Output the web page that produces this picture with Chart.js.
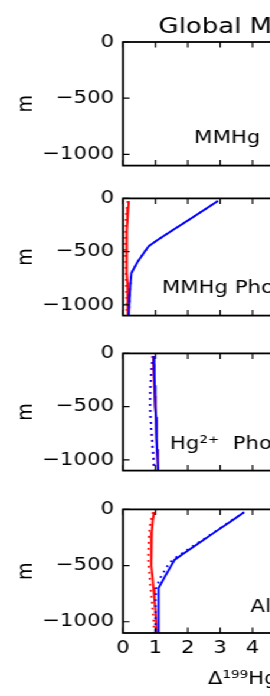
<!DOCTYPE html>
<html><head><meta charset="utf-8">
<script src="https://cdn.jsdelivr.net/npm/chart.js@4/dist/chart.umd.min.js"></script>
<style>
html,body{margin:0;padding:0;background:#fff;overflow:hidden;width:270px;height:696px}
#wrap{position:absolute;left:0;top:0;width:372px;height:696px;transform:scaleX(1.18);transform-origin:0 0}
canvas{position:absolute;left:0}
</style></head><body><div id="wrap"></div>
<script>
// ---- data ----
const depths = [-25, -100, -200, -300, -400, -450, -500, -600, -700, -800, -900, -1000, -1150];
const xTicks = [0, 1, 2, 3, 4, 5, 6, 7, 8, 9];
const yTicks = [0, -500, -1000];
const panelLabels = ['MMHg', 'MMHg Photodegradation', 'Hg\u00B2\u207A  Photoreduction', 'All'];
const mainTitle = 'Global Mean Profiles';
const xTitle = '\u0394\u00B9\u2079\u2079Hg (\u2030)';
const yTitle = 'm';

// MMHg photochemistry panel
const p2RedSolid  = [0.18, 0.16, 0.14, 0.12, 0.11, 0.11, 0.11, 0.12, 0.13, 0.14, 0.15, 0.15, 0.16];
const p2RedDot    = [0.15, 0.12, 0.09, 0.08, 0.07, 0.07, 0.07, 0.08, 0.09, 0.10, 0.11, 0.12, 0.12];
const p2BlueSolid = [2.93, 2.55, 2.04, 1.53, 1.02, 0.79, 0.67, 0.44, 0.26, 0.23, 0.21, 0.19, 0.17];
const p2BlueDot   = [2.93, 2.55, 2.04, 1.53, 1.02, 0.79, 0.67, 0.44, 0.26, 0.23, 0.21, 0.19, 0.17];
// Hg2+ photochemistry panel
const p3RedSolid  = [0.93, 0.94, 0.96, 0.97, 0.98, 0.99, 1.00, 1.02, 1.03, 1.04, 1.05, 1.07, 1.09];
const p3BlueSolid = [0.95, 0.96, 0.97, 0.98, 0.99, 1.00, 1.00, 1.02, 1.03, 1.04, 1.05, 1.07, 1.09];
const p3RedDot    = [0.92, 0.89, 0.87, 0.85, 0.84, 0.84, 0.84, 0.85, 0.87, 0.89, 0.92, 0.94, 0.97];
const p3BlueDot   = [0.93, 0.90, 0.87, 0.85, 0.84, 0.84, 0.84, 0.85, 0.87, 0.90, 0.92, 0.95, 0.97];
// All processes panel
const p4RedSolid  = [0.96, 0.92, 0.89, 0.87, 0.87, 0.87, 0.88, 0.91, 0.94, 0.97, 1.00, 1.02, 1.05];
const p4RedDot    = [0.93, 0.86, 0.81, 0.79, 0.78, 0.78, 0.79, 0.82, 0.85, 0.89, 0.92, 0.95, 0.97];
const p4BlueSolid = [3.74, 3.36, 2.85, 2.35, 1.84, 1.59, 1.49, 1.29, 1.10, 1.10, 1.10, 1.10, 1.10];
const p4BlueDot   = [3.74, 3.34, 2.83, 2.30, 1.77, 1.52, 1.38, 1.17, 1.02, 1.00, 1.00, 1.00, 1.00];

// ---- layout / style ----
const S = 1.18;                 // horizontal stretch of the figure
const PX_PER_UNIT = 32.375;     // screen px per x unit
const LEFT = 123 / S;
const CW = 372;
const RIGHT_PAD = CW - (123 + 9 * PX_PER_UNIT) / S;
const FONT = '"DejaVu Sans", sans-serif';
const RED = '#ff0000', BLUE = '#0000ff';

const pts = xs => depths.map((d, i) => ({x: xs[i], y: d}));
function solid(xs, c, order) { return {data: pts(xs), borderColor: c, borderWidth: 1.9, pointRadius: 0, fill: false, tension: 0, order}; }
function dotted(xs, c, order) { return {data: pts(xs), borderColor: c, borderWidth: 1.8, borderDash: [1.8, 4.2], pointRadius: 0, fill: false, tension: 0, order}; }
// Chart.js draws lower "order" on top: blue dotted > red dotted > blue solid > red solid
function four(rs, bs, rd, bd) { return [solid(rs, RED, 4), solid(bs, BLUE, 3), dotted(rd, RED, 2), dotted(bd, BLUE, 1)]; }

const panels = [
  {top: 42,  padTop: 42, label: panelLabels[0], lx: 2.2,  ly: -895, datasets: []},
  {top: 198, padTop: 12, label: panelLabels[1], lx: 1.2,  ly: -892, datasets: four(p2RedSolid, p2BlueSolid, p2RedDot, p2BlueDot)},
  {top: 353, padTop: 12, label: panelLabels[2], lx: 1.45, ly: -897, datasets: four(p3RedSolid, p3BlueSolid, p3RedDot, p3BlueDot)},
  {top: 509, padTop: 12, label: panelLabels[3], lx: 3.94, ly: -912, datasets: four(p4RedSolid, p4BlueSolid, p4RedDot, p4BlueDot), bottom: true}
];

const frameTicks = {
  id: 'frameTicks',
  afterDatasetsDraw(chart, args, opts) {
    const {ctx, chartArea: a, scales: {x, y}} = chart;
    const TL = 5.5;
    ctx.save();
    ctx.strokeStyle = '#000';
    ctx.lineWidth = 1.2;
    ctx.beginPath();
    x.ticks.forEach(t => {
      const px = x.getPixelForValue(t.value);
      ctx.moveTo(px, a.top); ctx.lineTo(px, a.top + TL);
      ctx.moveTo(px, a.bottom); ctx.lineTo(px, a.bottom - TL);
    });
    y.ticks.forEach(t => {
      const py = y.getPixelForValue(t.value);
      ctx.moveTo(a.left, py); ctx.lineTo(a.left + TL, py);
      ctx.moveTo(a.right, py); ctx.lineTo(a.right - TL, py);
    });
    ctx.stroke();
    ctx.lineWidth = 1.8;
    ctx.strokeRect(a.left, a.top, a.right - a.left, a.bottom - a.top);
    ctx.fillStyle = '#000';
    ctx.textBaseline = 'alphabetic';
    ctx.textAlign = 'left';
    if (opts.label) {
      ctx.font = '18px ' + FONT;
      ctx.fillText(opts.label, x.getPixelForValue(opts.lx), y.getPixelForValue(opts.ly));
    }
    if (opts.title) {
      ctx.font = '22px ' + FONT;
      ctx.fillText(opts.title, a.left + 30.1, a.top - 8.7);
    }
    ctx.restore();
  }
};

const wrap = document.getElementById('wrap');
panels.forEach((p, i) => {
  const xh = p.bottom ? 60 : 0;
  const padBottom = p.bottom ? 0 : 12;
  const H = p.padTop + 130 + xh + padBottom;
  const cv = document.createElement('canvas');
  cv.width = CW; cv.height = H;
  cv.style.width = CW + 'px'; cv.style.height = H + 'px';
  cv.style.top = (p.top - p.padTop) + 'px';
  wrap.appendChild(cv);
  const chart = new Chart(cv, {
    type: 'line',
    data: {datasets: p.datasets},
    options: {
      responsive: false, animation: false, events: [],
      layout: {padding: {top: p.padTop, bottom: padBottom, left: 0, right: RIGHT_PAD}},
      plugins: {
        legend: {display: false}, tooltip: {enabled: false},
        frameTicks: {label: p.label, lx: p.lx, ly: p.ly, title: i === 0 ? mainTitle : null}
      },
      scales: {
        x: {
          type: 'linear', min: xTicks[0], max: xTicks[xTicks.length - 1],
          grid: {display: false, drawTicks: false}, border: {display: false},
          afterBuildTicks: s => { s.ticks = xTicks.map(v => ({value: v})); },
          ticks: {display: !!p.bottom, padding: 5, color: '#000', font: {family: FONT, size: 18}},
          title: {display: !!p.bottom, text: xTitle, color: '#000', font: {family: FONT, size: 18}, padding: {top: 0, bottom: 3}},
          afterFit: s => { s.height = xh; }
        },
        y: {
          type: 'linear', min: -1100, max: 0,
          grid: {display: false, drawTicks: false}, border: {display: false},
          afterBuildTicks: s => { s.ticks = yTicks.map(v => ({value: v})); },
          ticks: {padding: 7.6, color: '#000', font: {family: FONT, size: 18},
                  callback: v => String(v).replace('-', '\u2212')},
          title: {display: true, text: yTitle, color: '#000', font: {family: FONT, size: 18}, padding: {top: 12, bottom: 0}},
          afterFit: s => { s.width = LEFT; }
        }
      }
    },
    plugins: [frameTicks]
  });
  const ca = chart.chartArea;
  cv.style.top = (p.top - ca.top) + 'px';
});
</script></body></html>
